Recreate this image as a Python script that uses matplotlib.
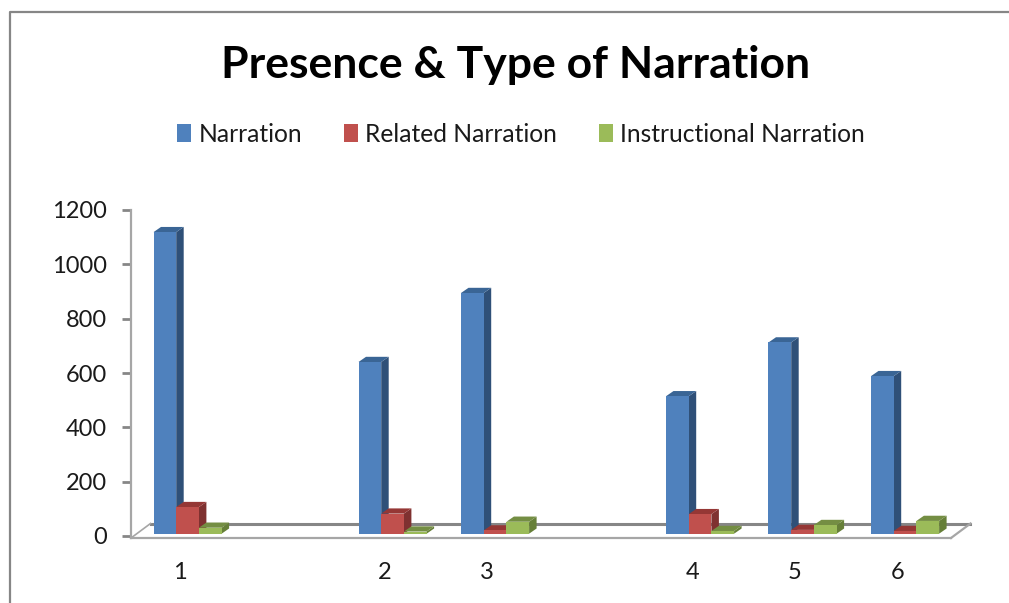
#!/usr/bin/env python
# -*- coding: utf-8 -*-
import matplotlib

matplotlib.use("Agg")

import matplotlib.pyplot as plt
from matplotlib.lines import Line2D
from matplotlib.patches import Patch, Polygon

plt.rcParams["font.family"] = ["Lato", "DejaVu Sans"]

WIDTH, HEIGHT = 1009, 603

CATEGORIES = ["1", "2", "3", "4", "5", "6"]
# the categories are not evenly spread, some slots stay empty
SLOTS = [1, 3, 4, 6, 7, 8]
TICKS = [0, 200, 400, 600, 800, 1000, 1200]

NARRATION = [1110, 632, 886, 506, 704, 580]
RELATED = [98, 74, 12, 72, 14, 10]
INSTRUCTIONAL = [22, 8, 44, 10, 32, 47]

SERIES = {
    "Narration": NARRATION,
    "Related Narration": RELATED,
    "Instructional Narration": INSTRUCTIONAL,
}

# front, side and top faces of the columns
COLORS = {
    "Narration": ("#4F81BD", "#2F5078", "#3A6595"),
    "Related Narration": ("#C0504D", "#7F3130", "#953735"),
    "Instructional Narration": ("#9BBB59", "#667F38", "#748E43"),
}

AXIS_DARK = "#868686"
AXIS_LIGHT = "#A6A6A6"
TEXT = "#1A1A1A"

# axes area in pixels
LEFT, RIGHT, BASE, TOP = 131, 951, 536, 210
PX_X = (RIGHT - LEFT) / 8
PX_Y = (BASE - TOP) / 1200

BAR_WIDTH = 22.7 / PX_X
BAR_SHIFT = 5.3 / PX_X
LABEL_SHIFT = 2.5 / PX_X
DEPTH_X = 7.5 / PX_X
DEPTH_Y = 5.2 / PX_Y
INSET = 2.3 / PX_Y


def draw_floor(ax):
    front = -2 / PX_Y
    back = 12.5 / PX_Y
    x0, x1 = 0.5, 8.5
    run = 19.5 / PX_X
    ax.plot([x0 + run, x1 + run], [back, back], color=AXIS_DARK, lw=2.2, clip_on=False, zorder=1)
    ax.plot([x0, x1], [front, front], color=AXIS_LIGHT, lw=1.6, clip_on=False, zorder=1)
    ax.plot([x0, x0 + run], [front, back], color=AXIS_LIGHT, lw=1.2, clip_on=False, zorder=1)
    ax.plot([x1, x1 + run], [front, back], color=AXIS_LIGHT, lw=1.6, clip_on=False, zorder=1)


def draw_column(ax, left, value, colors, zorder):
    front, side, top = colors
    right = left + BAR_WIDTH
    upper = INSET + value
    ax.add_patch(
        Polygon(
            [
                (right, INSET),
                (right + DEPTH_X, INSET + DEPTH_Y),
                (right + DEPTH_X, upper + DEPTH_Y),
                (right, upper),
            ],
            facecolor=side,
            edgecolor="none",
            clip_on=False,
            zorder=zorder,
        )
    )
    ax.add_patch(
        Polygon(
            [
                (left, upper),
                (right, upper),
                (right + DEPTH_X, upper + DEPTH_Y),
                (left + DEPTH_X, upper + DEPTH_Y),
            ],
            facecolor=top,
            edgecolor="none",
            clip_on=False,
            zorder=zorder,
        )
    )
    ax.bar(
        left,
        value,
        width=BAR_WIDTH,
        bottom=INSET,
        align="edge",
        color=front,
        clip_on=False,
        zorder=zorder + 0.5,
    )


def presence_chart():
    fig = plt.figure(figsize=(WIDTH / 100, HEIGHT / 100), dpi=100)
    ax = fig.add_axes(
        [
            LEFT / WIDTH,
            1 - BASE / HEIGHT,
            (RIGHT - LEFT) / WIDTH,
            (BASE - TOP) / HEIGHT,
        ]
    )
    ax.set_xlim(0.5, 8.5)
    ax.set_ylim(0, 1200)

    draw_floor(ax)

    for i, slot in enumerate(SLOTS):
        for j, (name, values) in enumerate(SERIES.items()):
            left = slot + BAR_SHIFT + (j - 1.5) * BAR_WIDTH
            draw_column(ax, left, values[i], COLORS[name], 2 + i * 3 + j)

    for side in ("top", "right", "bottom"):
        ax.spines[side].set_visible(False)
    ax.spines["left"].set_color(AXIS_LIGHT)
    ax.spines["left"].set_linewidth(1.6)
    ax.spines["left"].set_bounds(-7, 1200)

    ax.set_yticks(TICKS)
    ax.tick_params(axis="y", color=AXIS_DARK, width=2, length=6.5, pad=11, labelsize=17, labelcolor=TEXT)

    ax.set_xticks([s - LABEL_SHIFT for s in SLOTS], CATEGORIES)
    ax.tick_params(axis="x", length=0, pad=18.5, labelsize=17, labelcolor=TEXT)

    fig.text(516 / WIDTH, 1 - 65 / HEIGHT, "Presence & Type of Narration", fontsize=32,
             fontweight="bold", color="black", ha="center", va="center")

    handles = [Patch(facecolor=COLORS[name][0], label=name) for name in SERIES]
    fig.legend(
        handles=handles,
        loc="center",
        bbox_to_anchor=(521 / WIDTH, 1 - 134 / HEIGHT),
        ncols=3,
        frameon=False,
        fontsize=17.7,
        labelcolor=TEXT,
        handlelength=0.58,
        handleheight=0.72,
        handletextpad=0.29,
        columnspacing=1.7,
    )

    # chart border, cut off by the right and bottom edges
    edge = [9.5 / WIDTH, 9.5 / WIDTH, 1]
    fig.add_artist(Line2D(edge, [0, 1 - 12 / HEIGHT, 1 - 12 / HEIGHT], color=AXIS_DARK, lw=1.6))

    fig.savefig("out.png", dpi=100)


if __name__ == "__main__":
    presence_chart()
